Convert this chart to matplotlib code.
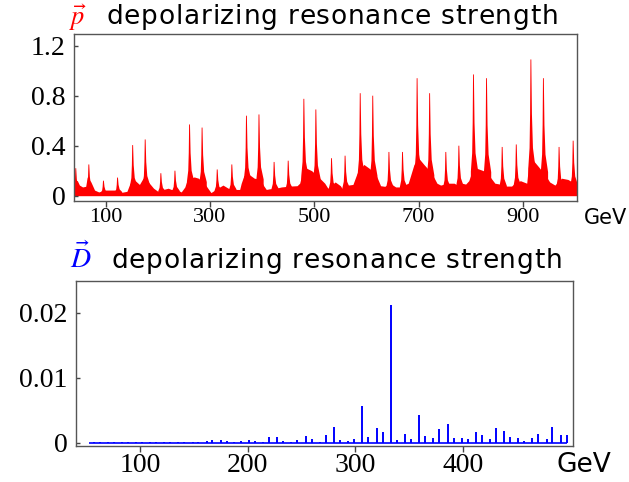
import numpy as np
import matplotlib
matplotlib.use('Agg')
import matplotlib.pyplot as plt

plt.rcParams['mathtext.fontset'] = 'stix'

# proton resonances: peak energy (GeV) and strength
peaks_E = [43, 68, 96, 123, 152, 176, 206, 233, 261, 285, 314, 342, 370, 394,
           423, 450, 480, 503, 533, 559, 588, 612, 643, 669, 697, 721, 752, 777,
           805, 830, 860, 887, 915, 939, 969, 996]
peaks_h = [0.22, 0.25, 0.12, 0.145, 0.405, 0.45, 0.18, 0.2, 0.57, 0.545, 0.21,
           0.25, 0.64, 0.65, 0.27, 0.28, 0.775, 0.69, 0.3, 0.32, 0.82, 0.8, 0.35,
           0.35, 0.94, 0.82, 0.35, 0.4, 0.97, 0.94, 0.39, 0.41, 1.09, 0.94, 0.39,
           0.44]

# background level between the peaks
base_E = [40, 46, 50, 56, 62, 65, 72, 79, 87, 99, 110, 118, 125, 131, 141, 147,
          157, 165, 172, 182, 192, 202, 211, 220, 226, 236, 245, 252, 255, 263,
          270, 278, 291, 296, 302, 315, 325, 335, 347, 357, 360, 365, 375, 385,
          397, 403, 408, 414, 427, 437, 454, 467, 472, 475, 485, 495, 508, 520,
          526, 540, 550, 553, 565, 574, 582, 595, 605, 617, 627, 635, 645, 656,
          665, 680, 691, 700, 710, 725, 735, 742, 756, 768, 774, 783, 790, 796,
          801, 811, 824, 837, 846, 853, 865, 878, 884, 895, 907, 911, 920, 930,
          945, 951, 961, 974, 986, 994, 1003]
base_v = [0.13, 0.12, 0.085, 0.07, 0.075, 0.15, 0.11, 0.045, 0.03, 0.045, 0.045,
          0.045, 0.045, 0.027, 0.035, 0.10, 0.12, 0.09, 0.14, 0.11, 0.06, 0.03,
          0.05, 0.06, 0.05, 0.05, 0.03, 0.07, 0.11, 0.14, 0.15, 0.14, 0.09, 0.06,
          0.025, 0.06, 0.085, 0.06, 0.05, 0.05, 0.1, 0.16, 0.17, 0.14, 0.13, 0.08,
          0.05, 0.055, 0.06, 0.07, 0.077, 0.08, 0.1, 0.15, 0.22, 0.2, 0.15, 0.1,
          0.06, 0.11, 0.08, 0.06, 0.085, 0.09, 0.18, 0.25, 0.22, 0.18, 0.08,
          0.075, 0.1, 0.07, 0.07, 0.1, 0.25, 0.3, 0.25, 0.18, 0.1, 0.085, 0.1,
          0.1, 0.085, 0.1, 0.093, 0.12, 0.18, 0.22, 0.2, 0.15, 0.1, 0.095, 0.077,
          0.077, 0.1, 0.12, 0.1, 0.26, 0.28, 0.23, 0.15, 0.11, 0.085, 0.14, 0.13,
          0.11, 0.11]

# deuteron resonances: energy (GeV) and strength (x 1e-3)
D_E = [56.9, 62.2, 70.0, 75.3, 83.1, 88.4, 96.2, 101.5, 109.3, 114.6, 122.4,
       127.7, 135.5, 140.8, 148.6, 153.9, 161.7, 167.0, 174.8, 180.4, 187.4,
       193.4, 201.0, 206.7, 214.4, 219.7, 227.4, 233.0, 240.5, 246.0, 253.9,
       259.4, 267.2, 272.7, 280.2, 285.8, 293.5, 299.0, 306.5, 312.1, 320.0,
       325.5, 333.0, 338.5, 346.2, 351.8, 359.3, 364.8, 372.6, 378.2, 386.0,
       391.5, 399.0, 404.6, 412.0, 417.6, 425.0, 430.6, 438.0, 443.6, 451.6,
       457.0, 464.7, 470.2, 478.0, 483.3, 491.0, 496.7]
D_h = [0.05, 0.05, 0.06, 0.05, 0.06, 0.05, 0.07, 0.06, 0.08, 0.07, 0.1, 0.08,
       0.12, 0.1, 0.15, 0.1, 0.2, 0.36, 0.4, 0.2, 0.15, 0.3, 0.4, 0.3, 0.15, 0.8,
       0.9, 0.3, 0.15, 0.4, 1.1, 0.6, 0.15, 1.2, 2.4, 0.4, 0.3, 0.6, 5.7, 0.9,
       2.3, 1.7, 21.2, 0.4, 1.3, 0.5, 4.2, 1.0, 0.7, 2.1, 2.9, 0.7, 0.7, 0.5,
       1.6, 1.2, 0.5, 2.2, 1.8, 0.9, 0.7, 0.3, 0.7, 1.4, 0.5, 2.4, 1.2, 1.2]

top_xticks = [100, 300, 500, 700, 900]
top_yticks = [0, 0.4, 0.8, 1.2]
top_ylabels = ['0', '0.4', '0.8', '1.2']
bot_xticks = [100, 200, 300, 400]
bot_yticks = [0, 0.01, 0.02]
bot_ylabels = ['0', '0.01', '0.02']

W, H = 629, 482
fig = plt.figure(figsize=(W / 100, H / 100), dpi=100)

serif = 'Liberation Serif'

def style(ax, xsize):
    for s in ax.spines.values():
        s.set_color('#555555')
        s.set_linewidth(1.0)
    ax.tick_params(axis='x', direction='out', length=4, width=1, color='#444444',
                   labelsize=xsize, pad=1)
    ax.tick_params(axis='y', direction='in', length=3, width=1, color='#444444',
                   labelsize=20, pad=6)
    for lab in ax.get_xticklabels() + ax.get_yticklabels():
        lab.set_family(serif)

# spike shape: fraction of peak height vs offset (GeV), long tail on the right
frac = [0.2, 0.35, 0.6, 1.0, 1.0, 0.6, 0.35, 0.2]
offs = [-5, -2.5, -1.5, -0.8, 0.8, 2.0, 4.0, 9.0]

# top panel
ax1 = fig.add_axes([74 / W, 1 - 200.7 / H, 502.7 / W, 166.7 / H])
ax1.fill_between(base_E, 0, base_v, color='red', lw=0)
for e, h in zip(peaks_E, peaks_h):
    xs = [e + offs[0]] + [e + o for o in offs] + [e + offs[-1]]
    ys = [0] + [h * f for f in frac] + [0]
    ax1.fill(xs, ys, color='red', lw=0)
ax1.set_xlim(39.6, 1002.8)
ax1.set_ylim(-0.04, 1.2936)
ax1.set_xticks(top_xticks)
ax1.set_yticks(top_yticks)
ax1.set_yticklabels(top_ylabels)
style(ax1, 16)

# bottom panel
ax2 = fig.add_axes([75.7 / W, 1 - 446 / H, 497.3 / W, 165 / H])
ax2.hlines(0, 52, D_E[-1], color='blue', lw=1.2)
ax2.vlines(D_E, 0, np.array(D_h) * 1e-3, color='blue', lw=1.4)
ax2.set_xlim(39.9, 502.6)
ax2.set_ylim(-0.00051, 0.02488)
ax2.set_xticks(bot_xticks)
ax2.set_yticks(bot_yticks)
ax2.set_yticklabels(bot_ylabels)
style(ax2, 20)

# titles, drawn with a little extra letter spacing
def spaced_text(x0, y, s, width_px, size):
    r = fig.canvas.get_renderer()
    def w(txt):
        t = fig.text(0, 0, txt, family='DejaVu Sans', fontsize=size)
        ww = t.get_window_extent(renderer=r).width
        t.remove()
        return ww
    bar = w('|')
    full = w(s)
    gap = max(0, (width_px - full) / (len(s) - 1))
    for i, ch in enumerate(s):
        if ch == ' ':
            continue
        off = w(s[:i] + '|') - bar if i > 0 else 0
        fig.text((x0 + off + i * gap) / W, 1 - y / H, ch, family='DejaVu Sans',
                 fontsize=size, va='baseline', ha='left')

fig.text(69 / W, 1 - 25 / H, r'$\vec{p}$', color='red', fontsize=19,
         va='baseline', ha='left')
spaced_text(106, 24, 'depolarizing resonance strength', 452, 19)
fig.text(70 / W, 1 - 268 / H, r'$\vec{D}$', color='blue', fontsize=20,
         va='baseline', ha='left')
spaced_text(111, 268, 'depolarizing resonance strength', 451, 19)

fig.text(584 / W, 1 - 224 / H, 'GeV', family='DejaVu Sans', fontsize=15,
         va='baseline', ha='left')
fig.text(557 / W, 1 - 472 / H, 'GeV', family='DejaVu Sans', fontsize=19,
         va='baseline', ha='left')

fig.savefig('out.png', dpi=100)
